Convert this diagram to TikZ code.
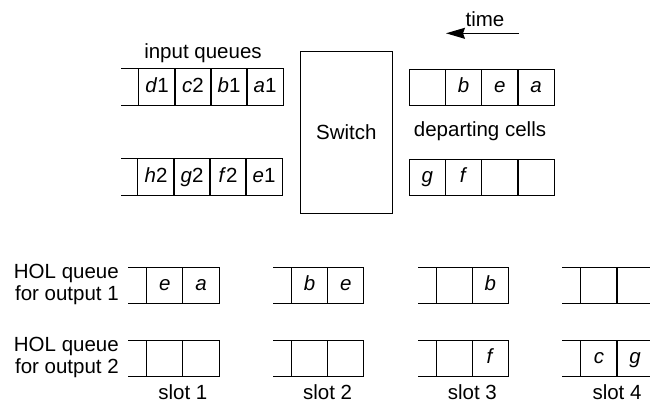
\documentclass[tikz,border=0pt]{standalone}
\usepackage{fontspec}
\setmainfont{Liberation Sans}
\usetikzlibrary{arrows.meta}
\begin{document}
\begin{tikzpicture}[x=1pt,y=-1pt,
  every node/.style={inner sep=0pt, font=\fontsize{20.5}{22}\selectfont},
  cell/.style={draw, line width=1.1pt, outer sep=0pt, minimum width=36.2pt, minimum height=36.2pt, text height=14pt, text depth=4pt},
  ln/.style={line width=1.1pt},
  lbl/.style={align=center}]
\useasboundingbox (0,0) rectangle (650,405);

% input queue 1
\node[cell] (a1) at (157,87) {\textit{d}1};
\node[cell] (a2) at (193,87) {\textit{c}2};
\node[cell] (a3) at (229,87) {\textit{b}1};
\node[cell] (a4) at (265,87) {\textit{a}1};
\draw[ln] (a1.north west) -- ++(-18,0) coordinate (a0t);
\draw[ln] (a1.south west) -- ++(-18,0) coordinate (a0b);
\node[lbl] (inq) at (203,53) {input queues};

% input queue 2
\node[cell] (b1) at (156,177) {\textit{h}2};
\node[cell] (b2) at (192,177) {\textit{g}2};
\node[cell] (b3) at (228,177) {\textit{f}2};
\node[cell] (b4) at (264,177) {\textit{e}1};
\draw[ln] (b1.north west) -- ++(-17,0) coordinate (b0t);
\draw[ln] (b1.south west) -- ++(-17,0) coordinate (b0b);

% switch
\node[draw, line width=1.1pt, minimum width=91.3pt, minimum height=162pt] (sw) at (346.4,132.3) {Switch};

% time arrow
\node[lbl] (time) at (485,19) {time};
\coordinate (t1) at (519,33.3);
\coordinate (t2) at (446,33.3);
\draw[line width=1.1pt, -{Stealth[length=19pt,width=11pt,inset=2pt]}] (t1) -- (t2);

% departing cells
\node[cell] (c1) at (427.2,87.3) {};
\node[cell] (c2) at (463.5,87.3) {\textit{b}};
\node[cell] (c3) at (499.8,87.3) {\textit{e}};
\node[cell] (c4) at (536.1,87.3) {\textit{a}};
\node[lbl] (dep) at (480,131) {departing cells};
\node[cell] (d1) at (427.2,177.5) {\textit{g}};
\node[cell] (d2) at (463.5,177.5) {\textit{f}};
\node[cell] (d3) at (499.8,177.5) {};
\node[cell] (d4) at (536.1,177.5) {};

% HOL labels
\node[align=right, anchor=east] (h1) at (119,284) {HOL queue\\for output 1};
\node[align=right, anchor=east] (h2) at (119,357) {HOL queue\\for output 2};

% slots
\foreach \k/\L/\ua/\ub/\la/\lb in {1/128.3/e/a//, 2/273/b/e//, 3/417.7//b//f, 4/562.4///c/g} {
  \node[cell] (s\k u1) at (\L+36.5,285.7) {\textit{\ua}};
  \node[cell] (s\k u2) at (\L+72.7,285.7) {\textit{\ub}};
  \node[cell] (s\k l1) at (\L+36.5,358.4) {\textit{\la}};
  \node[cell] (s\k l2) at (\L+72.7,358.4) {\textit{\lb}};
  \draw[ln] (s\k u1.north west) -- ++(-18.4,0) coordinate (s\k ut);
  \draw[ln] (s\k u1.south west) -- ++(-18.4,0) coordinate (s\k ub);
  \draw[ln] (s\k l1.north west) -- ++(-18.4,0) coordinate (s\k lt);
  \draw[ln] (s\k l1.south west) -- ++(-18.4,0) coordinate (s\k lb);
  \node[lbl] (sl\k) at (\L+54.6,392.5) {slot \k};
}
\end{tikzpicture}
\end{document}
